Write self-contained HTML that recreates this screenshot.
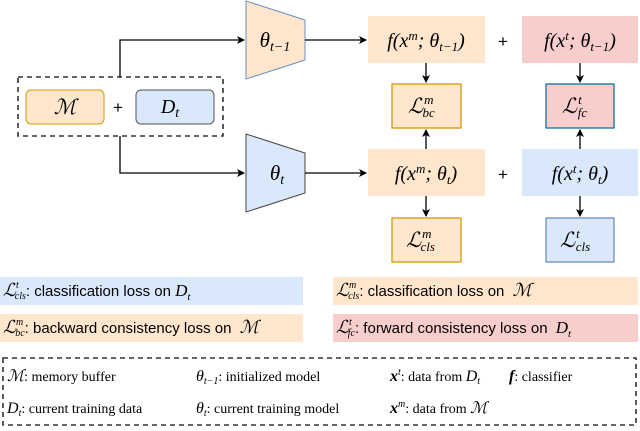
<!DOCTYPE html>
<html><head><meta charset="utf-8"><style>
body{margin:0;background:#fff}
svg{display:block}
.m{font-family:"Liberation Serif","DejaVu Serif",serif;font-style:italic}
.s{font-family:"Liberation Sans",sans-serif}
.r{font-family:"Liberation Serif",serif}
</style></head><body>
<svg width="640" height="431" viewBox="0 0 640 431" xmlns="http://www.w3.org/2000/svg">
<defs><marker id="a" markerWidth="8" markerHeight="8" refX="7" refY="4" orient="auto" markerUnits="userSpaceOnUse"><path d="M0,0 L8,4 L0,8 L2,4z" fill="#000"/></marker></defs>
<!-- input -->
<rect x="18" y="77" width="205" height="59" fill="none" stroke="#333" stroke-width="1.6" stroke-dasharray="5,4"/>
<rect x="26" y="90" width="78" height="34" rx="5" fill="#ffe6cc" stroke="#d79b00"/>
<rect x="136" y="90" width="78" height="34" rx="5" fill="#dae8fc" stroke="#555"/>
<text x="65" y="114" text-anchor="middle" class="m" font-size="21">ℳ</text>
<text x="118" y="113" text-anchor="middle" class="s" font-size="17">+</text>
<text x="170" y="113" text-anchor="middle" class="m" font-size="20">D<tspan font-size="14" dy="4">t</tspan></text>
<path d="M120,77 V40 H244" fill="none" stroke="#000" stroke-width="1.3" marker-end="url(#a)"/>
<path d="M120,136 V173 H244" fill="none" stroke="#000" stroke-width="1.3" marker-end="url(#a)"/>
<!-- trapezoids -->
<path d="M246,1 L305,20 L305,60 L246,79z" fill="#ffe6cc" stroke="#6c8ebf"/>
<path d="M246,134 L305,153 L305,193 L246,212z" fill="#dae8fc" stroke="#444"/>
<text x="275" y="47" text-anchor="middle" class="m" font-size="21">θ<tspan font-size="14" dy="4">t−1</tspan></text>
<text x="277" y="180" text-anchor="middle" class="m" font-size="21">θ<tspan font-size="14" dy="4">t</tspan></text>
<path d="M305,40 H366" stroke="#000" stroke-width="1.3" marker-end="url(#a)"/>
<path d="M305,173 H366" stroke="#000" stroke-width="1.3" marker-end="url(#a)"/>
<!-- outputs -->
<rect x="368" y="16" width="117" height="47" fill="#ffe6cc"/>
<rect x="522" y="16" width="116" height="47" fill="#f8cecc"/>
<rect x="368" y="149" width="117" height="47" fill="#ffe6cc"/>
<rect x="522" y="149" width="116" height="47" fill="#dae8fc"/>
<g class="m" font-size="20" text-anchor="middle">
<text x="426" y="47">f(x<tspan font-size="13" dy="-7">m</tspan><tspan dy="7">; θ</tspan><tspan font-size="13" dy="4">t−1</tspan><tspan dy="-4">)</tspan></text>
<text x="580" y="47">f(x<tspan font-size="13" dy="-7">t</tspan><tspan dy="7">; θ</tspan><tspan font-size="13" dy="4">t−1</tspan><tspan dy="-4">)</tspan></text>
<text x="426" y="180">f(x<tspan font-size="13" dy="-7">m</tspan><tspan dy="7">; θ</tspan><tspan font-size="13" dy="4">t</tspan><tspan dy="-4">)</tspan></text>
<text x="580" y="180">f(x<tspan font-size="13" dy="-7">t</tspan><tspan dy="7">; θ</tspan><tspan font-size="13" dy="4">t</tspan><tspan dy="-4">)</tspan></text>
</g>
<text x="503" y="47" text-anchor="middle" class="s" font-size="17">+</text>
<text x="503" y="180" text-anchor="middle" class="s" font-size="17">+</text>
<!-- losses -->
<rect x="392" y="84" width="69" height="44" fill="#ffe6cc" stroke="#d79b00" stroke-width="1.3"/>
<rect x="546" y="84" width="68" height="44" fill="#f8cecc" stroke="#10739e" stroke-width="1.3"/>
<rect x="392" y="218" width="69" height="44" fill="#ffe6cc" stroke="#d79b00" stroke-width="1.3"/>
<rect x="546" y="218" width="68" height="44" fill="#dae8fc" stroke="#6c8ebf" stroke-width="1.3"/>
<g class="m" font-size="21">
<text x="408" y="113">ℒ<tspan font-size="13" dx="1" dy="-9">m</tspan><tspan font-size="13" dx="-11" dy="13">bc</tspan></text>
<text x="562" y="113">ℒ<tspan font-size="13" dx="1" dy="-9">t</tspan><tspan font-size="13" dx="-4" dy="13">fc</tspan></text>
<text x="406" y="247">ℒ<tspan font-size="13" dx="1" dy="-9">m</tspan><tspan font-size="13" dx="-11" dy="13">cls</tspan></text>
<text x="560" y="247">ℒ<tspan font-size="13" dx="1" dy="-9">t</tspan><tspan font-size="13" dx="-4" dy="13">cls</tspan></text>
</g>
<g stroke="#000" stroke-width="1.3">
<path d="M426,63 V82" marker-end="url(#a)"/>
<path d="M426,149 V130" marker-end="url(#a)"/>
<path d="M426,196 V216" marker-end="url(#a)"/>
<path d="M580,63 V82" marker-end="url(#a)"/>
<path d="M580,149 V130" marker-end="url(#a)"/>
<path d="M580,196 V216" marker-end="url(#a)"/>
</g>
<!-- legend -->
<rect x="0" y="277" width="303" height="28" fill="#dae8fc"/>
<rect x="333" y="277" width="305" height="28" fill="#ffe6cc"/>
<rect x="0" y="314" width="303" height="28" fill="#ffe6cc"/>
<rect x="333" y="314" width="305" height="28" fill="#f8cecc"/>
<g font-size="15">
<text x="3" y="296"><tspan class="m" font-size="18">ℒ</tspan><tspan class="m" font-size="10" dy="-8">t</tspan><tspan class="m" font-size="10" dx="-4" dy="11">cls</tspan><tspan class="s" dy="-3">: classification loss on </tspan><tspan class="m" font-size="17">D</tspan><tspan class="m" font-size="11" dy="4">t</tspan></text>
<text x="336" y="296"><tspan class="m" font-size="18">ℒ</tspan><tspan class="m" font-size="10" dy="-8">m</tspan><tspan class="m" font-size="10" dx="-8" dy="11">cls</tspan><tspan class="s" dy="-3">: classification loss on </tspan><tspan class="m" font-size="18" dx="4">ℳ</tspan></text>
<text x="3" y="333"><tspan class="m" font-size="18">ℒ</tspan><tspan class="m" font-size="10" dy="-8">m</tspan><tspan class="m" font-size="10" dx="-8" dy="11">bc</tspan><tspan class="s" dy="-3">: backward consistency loss on </tspan><tspan class="m" font-size="18" dx="4">ℳ</tspan></text>
<text x="336" y="333"><tspan class="m" font-size="18">ℒ</tspan><tspan class="m" font-size="10" dy="-8">t</tspan><tspan class="m" font-size="10" dx="-4" dy="11">fc</tspan><tspan class="s" dy="-3">: forward consistency loss on </tspan><tspan class="m" font-size="17" dx="4">D</tspan><tspan class="m" font-size="11" dy="4">t</tspan></text>
</g>
<rect x="3" y="358" width="633" height="67" fill="none" stroke="#333" stroke-width="1.6" stroke-dasharray="5,4"/>
<g font-size="14" class="r">
<text x="7" y="381"><tspan class="m" font-size="16">ℳ</tspan>: memory buffer</text>
<text x="196" y="381"><tspan class="m" font-size="16">θ</tspan><tspan class="m" font-size="10" dy="3">t−1</tspan><tspan dy="-3">: initialized model</tspan></text>
<text x="390" y="381"><tspan class="m" font-size="16" font-weight="bold">x</tspan><tspan class="m" font-size="10" dy="-6">t</tspan><tspan dy="6">: data from </tspan><tspan class="m" font-size="16">D</tspan><tspan class="m" font-size="10" dy="3">t</tspan></text>
<text x="509" y="381"><tspan class="m" font-size="16" font-weight="bold">f</tspan>: classifier</text>
<text x="7" y="413"><tspan class="m" font-size="16">D</tspan><tspan class="m" font-size="10" dy="3">t</tspan><tspan dy="-3">: current training data</tspan></text>
<text x="196" y="413"><tspan class="m" font-size="16">θ</tspan><tspan class="m" font-size="10" dy="3">t</tspan><tspan dy="-3">: current training model</tspan></text>
<text x="390" y="413"><tspan class="m" font-size="16" font-weight="bold">x</tspan><tspan class="m" font-size="10" dy="-6">m</tspan><tspan dy="6">: data from </tspan><tspan class="m" font-size="16">ℳ</tspan></text>
</g>
</svg>
</body></html>
